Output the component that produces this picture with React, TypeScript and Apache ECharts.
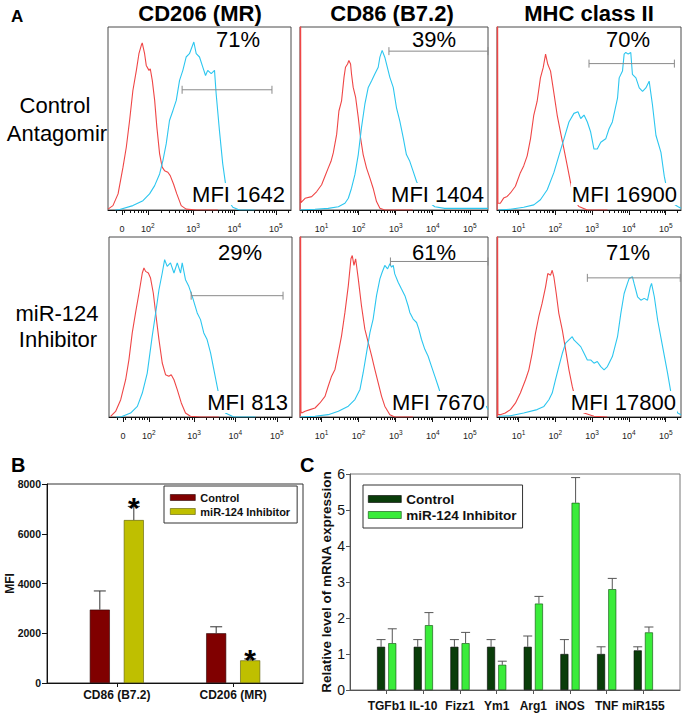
import React, { useEffect, useRef } from 'react';
import * as echarts from 'echarts';

// ---------- Panel A: flow histograms [channel (0-1000), % of max] ----------
const markers = ['CD206 (MR)', 'CD86 (B7.2)', 'MHC class II'];
const rowLabels = [['Control', 'Antagomir'], ['miR-124', 'Inhibitor']];

const cd206CtrlIso = [[0,0.5],[27,2.4],[55,8.8],[82,23.4],[100,34.3],[118,48.9],[136,65.3],[155,76.3],[169,85.4],[182,90],[187,91.3],[200,85.4],[209,79],[224,76.3],[231,77.2],[242,70.8],[255,59.9],[267,45.3],[282,30.7],[296,23.4],[309,21.5],[327,20.6],[340,18.8],[358,14.2],[376,8.8],[400,2.4],[427,0.5],[482,0],[600,0]];
const cd206CtrlStain = [[40,0],[64,0.3],[136,2.4],[191,5.1],[227,8.8],[255,13.3],[282,19.7],[300,27],[318,36.1],[336,48.9],[355,54.4],[373,59.9],[391,70.8],[409,76.3],[427,83.6],[445,85.4],[469,91.8],[482,85.4],[500,83.6],[518,78.1],[533,73.5],[545,76.3],[564,74.5],[582,76.3],[591,63.5],[609,43.4],[627,25.2],[645,12.4],[664,4.2],[682,1.5],[718,0],[800,0]];
const cd86CtrlIso = [[1,0],[2,200],[5,4],[27,6.4],[62,7.3],[89,10.1],[115,13.8],[136,19.3],[150,22.9],[165,26.6],[177,31.2],[195,41.3],[207,54.1],[221,59.6],[234,72.5],[242,78],[253,79.8],[260,81.7],[269,79.8],[274,74.3],[283,67],[296,61.5],[310,50.5],[322,39.5],[336,30.3],[354,22.9],[372,17.4],[389,11.9],[407,4.6],[425,0.9],[451,0],[600,0]];
const cd86CtrlStain = [[0,0],[80,0.4],[150,0.9],[204,1.8],[239,3.7],[257,6.4],[274,11.9],[292,19.3],[310,30.3],[327,45],[345,57.8],[363,67],[381,70.6],[398,74.3],[416,78],[425,83.5],[437,87.2],[451,83.5],[460,79.8],[478,72.5],[496,67],[513,56],[531,48.6],[549,39.5],[566,30.3],[584,26.6],[602,21.1],[620,15.6],[637,11.9],[655,8.3],[681,4.6],[717,1.8],[770,0.9],[858,0.9],[1000,0.9]];
const mhcCtrlIso = [[1,0],[2,200],[5,3.7],[18,3.7],[36,6.5],[55,7.4],[73,9.3],[100,13],[127,20.4],[145,24.1],[164,29.6],[182,38.9],[200,51.9],[218,59.3],[236,72.2],[251,77.8],[264,85.2],[276,79.6],[291,75.9],[305,66.7],[327,51.9],[345,42.6],[364,33.3],[382,24.1],[400,14.8],[418,5.6],[445,1.9],[491,0],[600,0]];
const mhcCtrlStain = [[9,0],[73,0.4],[145,1.5],[200,2.8],[236,5.6],[273,11.1],[309,20.4],[336,29.6],[364,38.9],[391,48.1],[418,52.8],[440,53.7],[455,50],[473,51.9],[491,48.1],[509,42.6],[527,33.3],[545,33.3],[564,37],[591,38.9],[609,44.4],[627,48.1],[655,61.1],[664,72.2],[682,75.9],[691,85.2],[700,86.1],[713,85.2],[727,86.1],[736,74.1],[755,72.2],[773,66.7],[791,64.8],[809,66.7],[827,70.4],[845,57.4],[864,40.7],[891,31.5],[909,18.5],[927,9.3],[955,3.7],[982,1.9],[1000,0.9]];
const cd206InhIso = [[9,0.4],[36,3.1],[64,9.6],[91,20.7],[109,31.9],[127,46.7],[145,57.8],[164,68.9],[182,80],[191,82.8],[200,80.9],[215,80],[227,77.2],[242,68.9],[255,57.8],[273,43],[291,30],[309,23.5],[327,22.6],[340,23.5],[355,20.7],[373,15.2],[395,7.8],[418,2.2],[445,0.4],[500,0],[600,0]];
const cd206InhStain = [[40,0],[64,0],[118,2.2],[155,5.9],[182,13.3],[209,24.4],[236,44.8],[255,57.8],[273,70.7],[291,80],[304,87.4],[318,83.7],[336,85.6],[355,80],[373,85.6],[391,80],[400,85.6],[418,76.3],[436,72.6],[455,67],[482,57.8],[500,54.1],[518,46.7],[536,43],[555,35.6],[573,26.3],[591,17],[609,7.8],[636,2.2],[682,0],[800,0]];
const cd86InhIso = [[1,0],[2,200],[5,3],[9,2.2],[27,3.2],[53,4.1],[80,5],[106,7.8],[133,11.5],[150,17.1],[168,22.7],[186,26.4],[204,35.8],[221,45.1],[239,58.1],[257,73],[271,87.9],[278,89.7],[287,84.2],[296,87.9],[310,76.7],[327,61.8],[345,48.8],[363,41.3],[381,33.9],[398,26.4],[416,19],[434,11.5],[451,6],[478,1.3],[504,0],[600,0]];
const cd86InhStain = [[0,0],[80,0.4],[150,1.3],[204,3.2],[257,6],[292,9.7],[319,15.3],[336,24.6],[354,35.8],[372,46.9],[389,54.4],[407,67.4],[425,76.7],[437,80.4],[451,84.2],[466,82.3],[478,85.1],[487,83.2],[496,84.2],[504,79.5],[522,74.9],[540,71.1],[558,67.4],[575,61.8],[584,58.1],[602,54.4],[620,52.5],[632,48.8],[646,43.2],[664,37.6],[681,33.9],[699,28.3],[717,22.7],[735,17.1],[752,11.5],[770,7.8],[805,6],[858,5],[912,4.1],[965,3.2],[991,6],[1000,4.1]];
const mhcInhIso = [[1,0],[2,200],[5,1.3],[18,1.3],[45,2.2],[73,4.1],[100,7.7],[127,13.3],[155,20.7],[173,26.2],[191,35.4],[209,46.5],[227,55.7],[245,63.1],[264,72.3],[276,79.7],[291,78.8],[300,81.5],[309,77.9],[322,68.6],[336,57.6],[355,48.3],[373,37.3],[391,26.2],[409,17],[427,9.6],[445,5],[473,2.2],[527,0.4],[600,0]];
const mhcInhStain = [[9,0.4],[73,0.7],[145,2.2],[218,4.1],[255,5.9],[282,9.6],[300,13.3],[318,20.7],[336,28],[355,35.4],[373,41],[391,42.8],[409,44.6],[418,42.8],[436,41],[455,39.1],[473,35.4],[491,31.7],[509,31.7],[527,29.9],[545,30.8],[564,28],[582,26.2],[600,28],[627,33.6],[655,44.6],[673,57.6],[691,68.6],[709,74.2],[718,76.9],[736,77.9],[745,74.2],[764,66.8],[782,64.9],[800,65.9],[818,64.9],[833,72.3],[840,74.2],[855,66.8],[873,53.9],[900,39.1],[927,24.4],[955,7.7],[982,2.2],[1000,1.3]];

// gates: [start channel, end channel, level]
const gatesCtrl = [[405, 896, 65.7], [473, 1000, 86.8], [500, 964, 80]];
const gatesInh = [[449, 951, 67.4], [481, 1000, 86.4], [491, 996, 77.3]];
const pctCtrl = [71, 39, 70];
const pctInh = [29, 61, 71];
const mfiCtrl = [1642, 1404, 16900];
const mfiInh = [813, 7670, 17800];

// axis decade channel positions per column
const decadePos = [[218, 465, 690, 917], [115, 312, 509, 706, 903], [117, 317, 517, 717, 917]];
const decadeExp = [[2, 3, 4, 5], [1, 2, 3, 4, 5], [1, 2, 3, 4, 5]];
const zeroPos = 76;

// ---------- Panel B ----------
const categoriesB = ['CD86 (B7.2)', 'CD206 (MR)'];
const mfiControl = [2950, 2000];
const mfiControlErr = [3700, 2260];
const mfiInhibitor = [6550, 910];
const mfiInhibitorErr = [7100, 970];
const sigB = [1, 1];

// ---------- Panel C ----------
const genesC = ['TGFb1', 'IL-10', 'Fizz1', 'Ym1', 'Arg1', 'iNOS', 'TNF', 'miR155'];
const mrnaControl = [1.2, 1.2, 1.2, 1.2, 1.2, 1.0, 1.0, 1.1];
const mrnaControlErr = [1.4, 1.4, 1.4, 1.4, 1.5, 1.4, 1.2, 1.2];
const mrnaInhibitor = [1.3, 1.8, 1.3, 0.7, 2.4, 5.2, 2.8, 1.6];
const mrnaInhibitorErr = [1.7, 2.15, 1.6, 0.8, 2.6, 5.9, 3.1, 1.75];

const FONT = '"Liberation Sans", Arial, Helvetica, sans-serif';
const RED = '#ef4646';
const BLUE = '#2cc6ef';
const B_CTRL = '#800000';
const B_INH = '#bfbf00';
const C_CTRL = '#0a3d0a';
const C_INH = '#3aec3a';

function minorTicks(dec: number[]): number[] {
  const out: number[] = [];
  const n = dec.length;
  for (let j = -1; j < n; j++) {
    const lo = j < 0 ? dec[0] - (dec[1] - dec[0]) : dec[j];
    const hi = j + 1 < n ? dec[j + 1] : dec[n - 1] + (dec[n - 1] - dec[n - 2]);
    const step = hi - lo;
    for (let k = 2; k <= 9; k++) {
      const p = lo + Math.log10(k) * step;
      if (p > 2 && p < 998) out.push(Math.round(p * 10) / 10);
    }
  }
  return out;
}

function txt(text: string, x: number, y: number, size: number, bold: boolean, align: string, extra: any = {}) {
  return {
    type: 'text', x, y, z: 100, silent: true,
    style: {
      text, fill: '#000', fontSize: size, fontWeight: bold ? 'bold' : 'normal', fontFamily: FONT,
      align, textAlign: align, verticalAlign: 'middle', textVerticalAlign: 'middle', ...extra,
    },
  };
}

function buildOption() {
  const histData = [
    [cd206CtrlIso, cd206CtrlStain], [cd86CtrlIso, cd86CtrlStain], [mhcCtrlIso, mhcCtrlStain],
    [cd206InhIso, cd206InhStain], [cd86InhIso, cd86InhStain], [mhcInhIso, mhcInhStain],
  ];
  const gates = [...gatesCtrl, ...gatesInh];
  const histGrids = [
    { left: 108, top: 27, width: 183, height: 183 },
    { left: 300, top: 27, width: 188, height: 183 },
    { left: 497, top: 27, width: 184, height: 183 },
    { left: 109, top: 237, width: 183, height: 180 },
    { left: 300, top: 237, width: 188, height: 180 },
    { left: 497, top: 237, width: 184, height: 180 },
  ];
  const grid: any[] = histGrids.map((g) => ({ ...g, show: true, borderColor: '#4a4a4a', borderWidth: 1, backgroundColor: 'transparent', outerBoundsMode: 'none' }));
  grid.push({ left: 47, top: 484, width: 256, height: 199, show: true, borderColor: '#333', borderWidth: 1, backgroundColor: 'transparent', outerBoundsMode: 'none' });
  grid.push({ left: 350, top: 474, width: 330, height: 216, show: true, borderColor: '#777', borderWidth: 1, backgroundColor: 'transparent', outerBoundsMode: 'none' });

  const xAxis: any[] = [];
  const yAxis: any[] = [];
  const series: any[] = [];

  const labelRich = {
    b: { fontSize: 9, fontFamily: FONT, color: '#222', lineHeight: 14 },
    s: { fontSize: 6.5, fontFamily: FONT, color: '#222', lineHeight: 8, verticalAlign: 'top' },
  };

  for (let i = 0; i < 6; i++) {
    const col = i % 3;
    const majors = col === 0 ? [zeroPos, ...decadePos[0]] : decadePos[col];
    const labels = col === 0
      ? ['{b|0}', ...decadeExp[0].map((e) => `{b|10}{s|${e}}`)]
      : decadeExp[col].map((e) => `{b|10}{s|${e}}`);
    const minors = minorTicks(decadePos[col]);
    xAxis.push({
      type: 'value', gridIndex: i, min: 0, max: 1000, position: 'bottom',
      axisLine: { show: true, onZero: false, lineStyle: { color: '#111', width: 1 } },
      axisTick: { show: true, customValues: majors, length: 5, lineStyle: { color: '#111' } },
      axisLabel: {
        show: true, customValues: majors, margin: 12, rich: labelRich,
        formatter: (v: number) => {
          const idx = majors.findIndex((m) => Math.abs(m - v) < 1e-6);
          return idx >= 0 ? labels[idx] : '';
        },
      },
      splitLine: { show: false },
    });
    xAxis.push({
      type: 'value', gridIndex: i, min: 0, max: 1000, position: 'bottom',
      axisLine: { show: false, onZero: false },
      axisTick: { show: true, customValues: minors, length: 3, lineStyle: { color: '#111' } },
      axisLabel: { show: false },
      splitLine: { show: false },
    });
    yAxis.push({ type: 'value', gridIndex: i, min: 0, max: 100, show: false, splitLine: { show: false } });

    series.push({
      type: 'line', xAxisIndex: 2 * i, yAxisIndex: i, data: histData[i][0], showSymbol: false, symbol: 'none',
      lineStyle: { color: RED, width: 1.1 }, clip: true, silent: true, z: 3,
    });
    series.push({
      type: 'line', xAxisIndex: 2 * i, yAxisIndex: i, data: histData[i][1], showSymbol: false, symbol: 'none',
      lineStyle: { color: BLUE, width: 1.1 }, clip: true, silent: true, z: 4,
    });
    series.push({
      type: 'custom', xAxisIndex: 2 * i, yAxisIndex: i, data: [gates[i]], silent: true, z: 5,
      renderItem: (params: any, api: any) => {
        const a = api.coord([api.value(0), api.value(2)]);
        const b = api.coord([api.value(1), api.value(2)]);
        const st = { stroke: '#8a8a8a', lineWidth: 1 };
        return {
          type: 'group',
          children: [
            { type: 'line', shape: { x1: a[0], y1: a[1], x2: b[0], y2: b[1] }, style: st },
            { type: 'line', shape: { x1: a[0], y1: a[1] - 4, x2: a[0], y2: a[1] + 4 }, style: st },
            { type: 'line', shape: { x1: b[0], y1: b[1] - 4, x2: b[0], y2: b[1] + 4 }, style: st },
          ],
        };
      },
    });
  }

  // Panel B axes (grid 6)
  xAxis.push({
    type: 'value', gridIndex: 6, min: 0.4, max: 2.6, position: 'bottom',
    axisLine: { show: true, onZero: false, lineStyle: { color: '#111' } },
    axisTick: { show: true, customValues: [1, 2], length: 4, lineStyle: { color: '#111' } },
    axisLabel: {
      customValues: [1, 2], margin: 6, fontFamily: FONT, fontWeight: 'bold', fontSize: 12, color: '#111',
      formatter: (v: number) => categoriesB[Math.round(v) - 1] || '',
    },
    splitLine: { show: false },
  });
  yAxis.push({
    type: 'value', gridIndex: 6, min: 0, max: 8000, interval: 2000,
    axisLine: { show: true, onZero: false, lineStyle: { color: '#111' } },
    axisTick: { show: true, length: 5, lineStyle: { color: '#111' } },
    axisLabel: { fontFamily: FONT, fontWeight: 'bold', fontSize: 10.5, color: '#111', margin: 6, formatter: (v: number) => String(v) },
    splitLine: { show: false },
    name: 'MFI', nameLocation: 'middle', nameGap: 31, nameRotate: 90, nameMoveOverlap: false,
    nameTextStyle: { fontFamily: FONT, fontWeight: 'bold', fontSize: 12, color: '#111' },
  });
  // Panel C axes (grid 7)
  xAxis.push({
    type: 'value', gridIndex: 7, min: 0, max: 9, position: 'bottom',
    axisLine: { show: true, onZero: false, lineStyle: { color: '#555' } },
    axisTick: { show: true, customValues: genesC.map((_, k) => k + 1), length: 4, lineStyle: { color: '#555' } },
    axisLabel: {
      customValues: genesC.map((_, k) => k + 1), margin: 10, fontFamily: FONT, fontWeight: 'bold', fontSize: 12, color: '#111',
      formatter: (v: number) => genesC[Math.round(v) - 1] || '',
    },
    splitLine: { show: false },
  });
  yAxis.push({
    type: 'value', gridIndex: 7, min: 0, max: 6, interval: 1,
    axisLine: { show: true, onZero: false, lineStyle: { color: '#555' } },
    axisTick: { show: true, length: 4, lineStyle: { color: '#555' } },
    axisLabel: { fontFamily: FONT, fontSize: 14, color: '#111', margin: 5 },
    splitLine: { show: false },
    name: 'Relative level of mRNA expression', nameLocation: 'middle', nameGap: 17, nameRotate: 90, nameMoveOverlap: false,
    nameTextStyle: { fontFamily: FONT, fontWeight: 'bold', fontSize: 13.5, color: '#111' },
  });

  const errSeries = (xi: number, yi: number, data: any[], off: number, capHalf: number, color: string) => ({
    type: 'custom', xAxisIndex: xi, yAxisIndex: yi, data, silent: true, z: 6,
    renderItem: (params: any, api: any) => {
      const x = api.value(0), v = api.value(1), e = api.value(2), s = api.value(3);
      const p0 = api.coord([x, v]);
      const p1 = api.coord([x, e]);
      const cx = p0[0] + off;
      const st = { stroke: color, lineWidth: 1 };
      const children: any[] = [
        { type: 'line', shape: { x1: cx, y1: p0[1], x2: cx, y2: p1[1] }, style: st },
        { type: 'line', shape: { x1: cx - capHalf, y1: p1[1], x2: cx + capHalf, y2: p1[1] }, style: st },
      ];
      if (s) {
        children.push({
          type: 'text',
          style: { text: '*', x: cx, y: p1[1] + 1, fill: '#000', fontSize: 30, fontWeight: 'bold', fontFamily: FONT, align: 'center', verticalAlign: 'middle', textAlign: 'center', textVerticalAlign: 'middle' },
        });
      }
      return { type: 'group', children };
    },
  });

  // Panel B bars
  series.push({
    name: 'Control', type: 'bar', xAxisIndex: 12, yAxisIndex: 6, barWidth: 20, barGap: '70%',
    data: categoriesB.map((_, k) => [k + 1, mfiControl[k]]),
    itemStyle: { color: B_CTRL, borderColor: '#2a0000', borderWidth: 0.6 }, silent: true,
  });
  series.push({
    name: 'miR-124 Inhibitor', type: 'bar', xAxisIndex: 12, yAxisIndex: 6, barWidth: 20, barGap: '70%',
    data: categoriesB.map((_, k) => [k + 1, mfiInhibitor[k]]),
    itemStyle: { color: B_INH, borderColor: '#5a5a00', borderWidth: 0.6 }, silent: true,
  });
  series.push(errSeries(12, 6, categoriesB.map((_, k) => [k + 1, mfiControl[k], mfiControlErr[k], 0]), -17, 6, '#333'));
  series.push(errSeries(12, 6, categoriesB.map((_, k) => [k + 1, mfiInhibitor[k], mfiInhibitorErr[k], sigB[k]]), 17, 6, '#333'));

  // Panel C bars
  series.push({
    name: 'Control', type: 'bar', xAxisIndex: 13, yAxisIndex: 7, barWidth: 8, barGap: '40%',
    data: genesC.map((_, k) => [k + 1, mrnaControl[k]]),
    itemStyle: { color: C_CTRL, borderColor: '#000', borderWidth: 0.6 }, silent: true,
  });
  series.push({
    name: 'miR-124 Inhibitor', type: 'bar', xAxisIndex: 13, yAxisIndex: 7, barWidth: 8, barGap: '40%',
    data: genesC.map((_, k) => [k + 1, mrnaInhibitor[k]]),
    itemStyle: { color: C_INH, borderColor: '#0a4a0a', borderWidth: 0.6 }, silent: true,
  });
  series.push(errSeries(13, 7, genesC.map((_, k) => [k + 1, mrnaControl[k], mrnaControlErr[k], 0]), -5.6, 4.5, '#555'));
  series.push(errSeries(13, 7, genesC.map((_, k) => [k + 1, mrnaInhibitor[k], mrnaInhibitorErr[k], 0]), 5.6, 4.5, '#555'));

  const legendText = (size: number) => ({ fontFamily: FONT, fontWeight: 'bold', fontSize: size, color: '#111' });
  const legend = [
    {
      left: 164, top: 486, orient: 'vertical', icon: 'rect', itemWidth: 25, itemHeight: 6, itemGap: 3,
      padding: [6, 7, 6, 6], borderColor: '#333', borderWidth: 1, backgroundColor: '#fff', selectedMode: false, z: 20,
      textStyle: legendText(11),
      data: [
        { name: 'Control', itemStyle: { color: B_CTRL, borderColor: '#2a0000', borderWidth: 0.6 } },
        { name: 'miR-124 Inhibitor', itemStyle: { color: B_INH, borderColor: '#5a5a00', borderWidth: 0.6 } },
      ],
    },
    {
      left: 363, top: 485, orient: 'vertical', icon: 'rect', itemWidth: 33, itemHeight: 7, itemGap: 2,
      padding: [7, 6, 6, 5], borderColor: '#333', borderWidth: 1, backgroundColor: '#fff', selectedMode: false, z: 20,
      textStyle: legendText(13.5),
      data: [
        { name: 'Control', itemStyle: { color: C_CTRL, borderColor: '#000', borderWidth: 0.6 } },
        { name: 'miR-124 Inhibitor', itemStyle: { color: C_INH, borderColor: '#0a4a0a', borderWidth: 0.6 } },
      ],
    },
  ];

  // texts
  const graphic: any[] = [];
  graphic.push(txt('A', 11, 16, 17, true, 'left'));
  graphic.push(txt('B', 11, 465, 20, true, 'left'));
  graphic.push(txt('C', 300, 465, 20, true, 'left'));
  const titleX = [200, 392, 589];
  markers.forEach((m, i) => graphic.push(txt(m, titleX[i], 13, 22, true, 'center')));
  graphic.push(txt(rowLabels[0][0], 55, 105, 22, false, 'center'));
  graphic.push(txt(rowLabels[0][1], 57, 133, 22, false, 'center'));
  graphic.push(txt(rowLabels[1][0], 57, 313, 22, false, 'center'));
  graphic.push(txt(rowLabels[1][1], 58, 339, 22, false, 'center'));
  const pctX = [238, 434, 628];
  pctCtrl.forEach((p, i) => graphic.push(txt(`${p}%`, pctX[i], 39, 22, false, 'center')));
  pctInh.forEach((p, i) => graphic.push(txt(`${p}%`, pctX[i] + (i === 0 ? 2 : 0), 252, 22, false, 'center')));
  const mfiXCtrl = [286, 485, 678];
  const mfiXInh = [289, 486, 677];
  mfiCtrl.forEach((m, i) => graphic.push(txt(`MFI ${m}`, mfiXCtrl[i], 194, 22, false, 'right', { backgroundColor: '#fff', padding: [0, 1, 0, 1] })));
  mfiInh.forEach((m, i) => graphic.push(txt(`MFI ${m}`, mfiXInh[i], 402, 22, false, 'right', { backgroundColor: '#fff', padding: [0, 1, 0, 1] })));

  return {
    animation: false,
    backgroundColor: '#fff',
    grid, xAxis, yAxis, series, legend, graphic,
  };
}

export default function App() {
  const ref = useRef<HTMLDivElement>(null);
  useEffect(() => {
    const chart = echarts.init(ref.current!, null, { renderer: 'svg' });
    chart.setOption(buildOption() as any);
    return () => chart.dispose();
  }, []);
  return <div ref={ref} style={{ position: 'absolute', left: 0, top: 0, width: 686, height: 716, background: '#fff' }} />;
}
